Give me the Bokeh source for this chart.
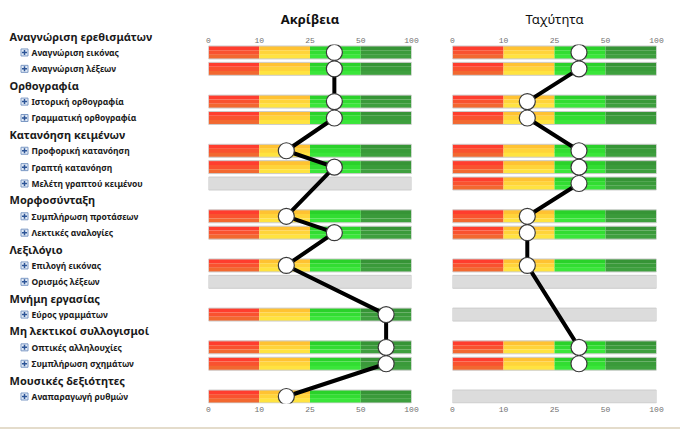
import numpy as np
from bokeh.plotting import figure
from bokeh.layouts import row
from bokeh.models import Range1d, FixedTicker, ColumnDataSource, LinearAxis, LabelSet
from bokeh.embed import file_html
from bokeh.resources import INLINE
from bokeh.core.properties import value

# ---------------- data ----------------
groups = ["Αναγνώριση ερεθισμάτων", "Ορθογραφία", "Κατανόηση κειμένων", "Μορφοσύνταξη",
          "Λεξιλόγιο", "Μνήμη εργασίας", "Μη λεκτικοί συλλογισμοί", "Μουσικές δεξιότητες"]
items = ["Αναγνώριση εικόνας", "Αναγνώριση λέξεων",
         "Ιστορική ορθογραφία", "Γραμματική ορθογραφία",
         "Προφορική κατανόηση", "Γραπτή κατανόηση", "Μελέτη γραπτού κειμένου",
         "Συμπλήρωση προτάσεων", "Λεκτικές αναλογίες",
         "Επιλογή εικόνας", "Ορισμός λέξεων",
         "Εύρος γραμμάτων",
         "Οπτικές αλληλουχίες", "Συμπλήρωση σχημάτων",
         "Αναπαραγωγή ρυθμών"]
item_group = [0, 0, 1, 1, 2, 2, 2, 3, 3, 4, 4, 5, 6, 6, 7]
accuracy = [37, 37, 37, 37, 18, 37, None, 18, 37, 18, None, 75, 75, 75, 18]
speed = [37, 37, 17, 17, 37, 37, 37, 17, 17, 17, None, None, 37, 37, None]
tick_values = [0, 10, 25, 50, 100]
tick_labels = ["0", "10", "25", "50", "100"]
panel_titles = ["Ακρίβεια", "Ταχύτητα"]

# band shading (top -> bottom stripes)
band_shades = [["#ff3d2e", "#f9522f", "#f26830"],
               ["#ffc232", "#ffd43a", "#ffe340"],
               ["#2ad22a", "#32dd32", "#3ae63a"],
               ["#369436", "#3a9a3a", "#3e9f3e"]]
missing_color = "#dcdcdc"

# ---------------- slot layout ----------------
header_slot = []
item_slot = []
s = 0
for gi, g in enumerate(groups):
    header_slot.append(s)
    s += 1
    for ig in item_group:
        if ig == gi:
            item_slot.append(s)
            s += 1

band_pos = list(range(len(tick_values)))  # evenly spaced bands
H = 427
TOP, BOT = 41, 24
YR = (22.427, 0.5145)
FONT = "Noto Sans"
BAR_H = 0.79
HEAD_SIZE = "11px"
ITEM_SIZE = "8.5px"

# ---------------- label figure ----------------
lab = figure(width=200, height=H, x_range=Range1d(0, 200), y_range=Range1d(*YR),
             x_axis_type=None, y_axis_type=None, toolbar_location=None, output_backend="svg",
             min_border_left=0, min_border_right=0, min_border_top=TOP, min_border_bottom=BOT,
             outline_line_color=None, title=groups[0])
lab.grid.visible = False
lab.title.align = "left"
lab.title.offset = 9
lab.title.standoff = 2
lab.title.text_font = FONT
lab.title.text_font_size = HEAD_SIZE
lab.title.text_font_style = "bold"
lab.title.text_color = "#1a1a1a"

hsrc = ColumnDataSource(dict(x=[9] * (len(groups) - 1), y=header_slot[1:], t=groups[1:]))
isrc = ColumnDataSource(dict(x=[31] * len(items), y=item_slot, t=items))
lab.add_layout(LabelSet(x="x", y="y", text="t", source=hsrc, text_font=value(FONT),
                        text_font_size=value(HEAD_SIZE), text_font_style="bold",
                        text_baseline="middle", text_color="#1a1a1a"))
lab.add_layout(LabelSet(x="x", y="y", text="t", source=isrc, text_font=value(FONT),
                        text_font_size=value(ITEM_SIZE), text_font_style="bold",
                        text_baseline="middle", text_color="#1a1a1a"))
lab.rect(x=[24] * len(items), y=item_slot, width=7, height=7, width_units="screen",
         height_units="screen", fill_color="#e4ecf7", line_color="#7b98c4", line_width=1)
lab.scatter(x=[24] * len(items), y=item_slot, marker="cross", size=5,
            line_color="#2d5597", line_width=1.5)


def make_panel(title, vals, width, ml, mr, bold):
    p = figure(width=width, height=H, x_range=Range1d(0, 4), y_range=Range1d(*YR),
               x_axis_type=None, y_axis_type=None, toolbar_location=None, output_backend="svg",
               min_border_left=ml, min_border_right=mr, min_border_top=TOP,
               min_border_bottom=BOT, outline_line_color=None, title=title)
    p.grid.visible = False
    p.title.align = "center"
    p.title.text_font = FONT
    p.title.text_font_size = "13px"
    p.title.text_font_style = "bold" if bold else "normal"
    p.title.text_color = "#111111"
    p.title.standoff = 14
    for loc, so in (("above", 2), ("below", 3)):
        ax = LinearAxis(ticker=FixedTicker(ticks=band_pos),
                        major_label_overrides={b: t for b, t in zip(band_pos, tick_labels)})
        ax.axis_line_color = None
        ax.major_tick_line_color = None
        ax.minor_tick_line_color = None
        ax.major_tick_out = 0
        ax.major_tick_in = 0
        ax.major_label_standoff = so
        ax.major_label_text_font = "Liberation Mono"
        ax.major_label_text_font_size = "8px"
        ax.major_label_text_color = "#707070"
        p.add_layout(ax, loc)

    xs, ys, cs = [], [], []
    gy = []
    sh = BAR_H / 3
    for v, y in zip(vals, item_slot):
        if v is None:
            gy.append(y)
        else:
            for b in range(4):
                for k in range(3):
                    xs.append(b + 0.5)
                    ys.append(y - BAR_H / 2 + sh * (k + 0.5))
                    cs.append(band_shades[b][k])
    p.rect(x=xs, y=ys, width=1, height=sh * 1.02, fill_color=cs, line_color=None)
    if gy:
        p.rect(x=[2] * len(gy), y=gy, width=4, height=BAR_H, fill_color=missing_color,
               line_color=None)
    p.rect(x=[2] * len(item_slot), y=item_slot, width=4, height=BAR_H, fill_alpha=0,
           line_color="#cccccc", line_width=1)

    px = [float(np.interp(v, tick_values, band_pos)) for v in vals if v is not None]
    py = [y for v, y in zip(vals, item_slot) if v is not None]
    p.line(px, py, line_width=4, line_color="black")
    p.scatter(px, py, size=16, fill_color="white", line_color="#3a3a3a", line_width=1.2)
    return p


p1 = make_panel(panel_titles[0], accuracy, 232, 8, 21, True)
p2 = make_panel(panel_titles[1], speed, 248, 20, 24, False)

layout = row(lab, p1, p2, styles={"border-bottom": "2px solid #e4dccb"})
open("out.html", "w").write(file_html(layout, INLINE))
